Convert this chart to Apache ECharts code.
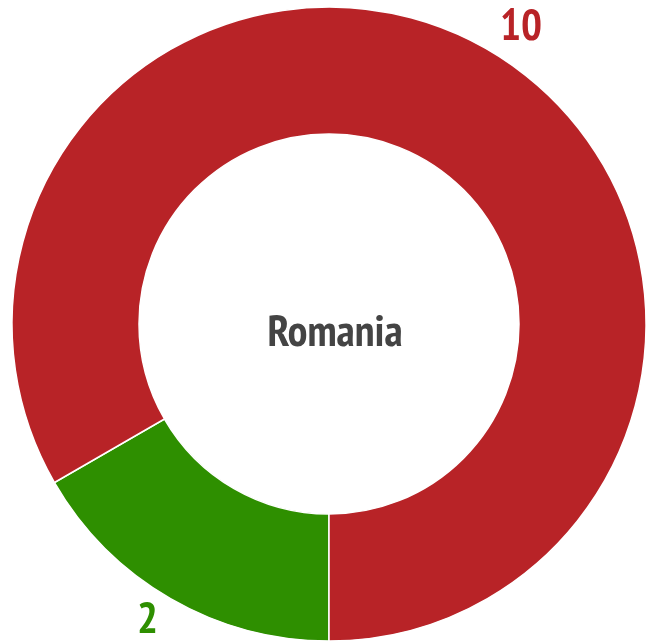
<!DOCTYPE html>
<html>
<head>
<meta charset="utf-8">
<script src="https://cdn.jsdelivr.net/npm/echarts@6/dist/echarts.min.js"></script>
<style>
html,body{margin:0;padding:0;background:#fff;}
#c{width:654px;height:643px;}
</style>
</head>
<body>
<div id="c"></div>
<script>
const categories = ['Green', 'Red'];
const values = [2, 10];
const colors = ['#2E8F00', '#B82327'];
const centerTitle = 'Romania';

const chart = echarts.init(document.getElementById('c'), null, {renderer: 'canvas'});
const FONT = '"Liberation Sans Narrow", "PT Sans Narrow", "DejaVu Sans Condensed", sans-serif';
chart.setOption({
  animation: false,
  title: {
    text: centerTitle,
    left: 330, top: 328,
    textAlign: 'center', textVerticalAlign: 'middle',
    textStyle: {fontFamily: FONT, fontWeight: 'bold', fontSize: 44, color: '#444444'}
  },
  series: [{
    type: 'pie',
    center: [329, 324],
    radius: [190, 317],
    startAngle: -90,
    clockwise: true,
    avoidLabelOverlap: false,
    itemStyle: {borderColor: '#ffffff', borderWidth: 1.5},
    label: {
      show: true,
      position: 'outside',
      formatter: '{c}',
      fontFamily: FONT,
      fontWeight: 'bold',
      fontSize: 44,
      distanceToLabelLine: 0
    },
    labelLine: {show: false, length: 25, length2: 0},
    emphasis: {disabled: true},
    data: categories.map((n, i) => ({
      name: n, value: values[i],
      itemStyle: {color: colors[i]},
      label: {color: colors[i]}
    }))
  }]
});
</script>
</body>
</html>
